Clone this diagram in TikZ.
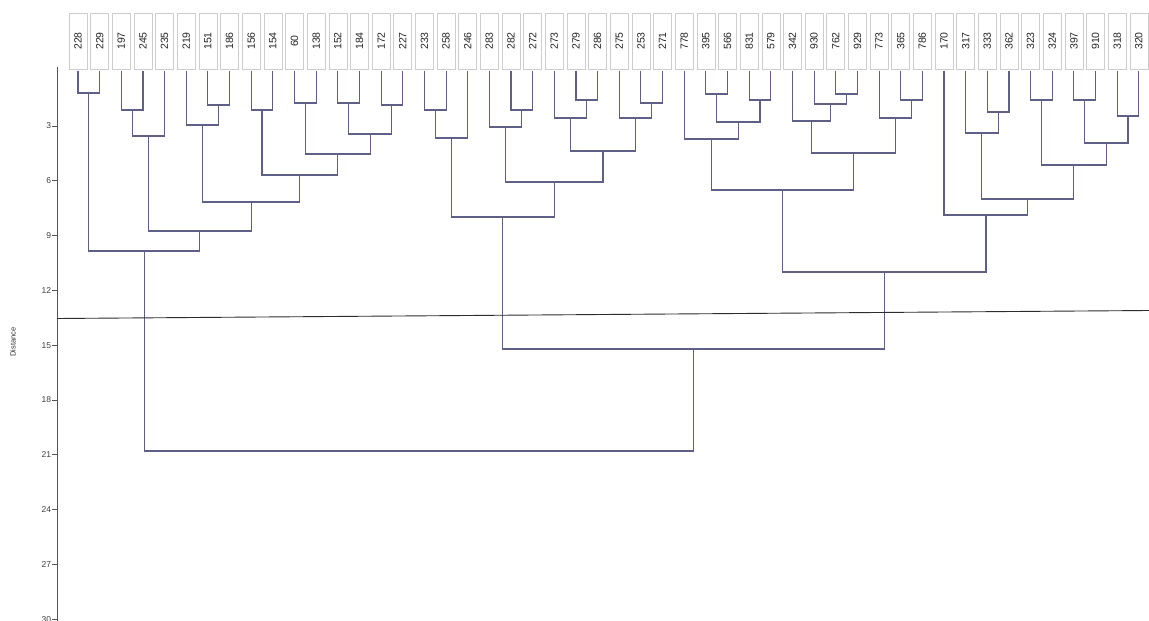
\documentclass[tikz,border=0pt]{standalone}
\usepackage{fontspec}
\setmainfont{Liberation Sans}
\usetikzlibrary{calc}
\definecolor{dendro}{RGB}{96,96,134}
\definecolor{axisc}{RGB}{85,85,85}
\definecolor{boxc}{RGB}{205,205,205}
\definecolor{cutc}{RGB}{45,45,45}
\tikzset{
  leafbox/.style={draw=boxc, line width=0.6pt, minimum width=18pt, minimum height=56pt,
    inner sep=0pt, outer ysep=1.5pt, font=\fontsize{10.5}{11}\selectfont, text=black!85},
  dend/.style={draw=dendro, line width=1.1pt},
  axisline/.style={draw=axisc, line width=1pt},
  ticklab/.style={anchor=east, inner sep=0pt, font=\fontsize{8.5}{9}\selectfont, text=black!75},
  cutline/.style={draw=cutc, line width=0.9pt},
}
\newcommand\mrg[4]{%
  \coordinate (#1tmp) at ($(#2)!0.5!(#3)$);
  \coordinate (#1) at (#1tmp |- 0,#4);
  \draw[dend] (#2) |- (#1) -| (#3);
}
\begin{document}
\begin{tikzpicture}[x=1pt,y=-1pt]
\useasboundingbox[fill=white] (0,0) rectangle (1149,621);
% leaves
\foreach \lab [count=\i from 0] in {228,229,197,245,235,219,151,186,156,154,60,138,152,184,172,227,233,258,246,283,282,272,273,279,286,275,253,271,778,395,566,831,579,342,930,762,929,773,365,786,170,317,333,362,323,324,397,910,318,320}
  \node[leafbox] (L\i) at ({78+21.65*\i},41) {\rotatebox{90}{\lab}};
% group A
\mrg{m1}{L0}{L1}{93}
\mrg{m2}{L2}{L3}{110}
\mrg{m3}{m2}{L4}{136}
\mrg{m4}{L6}{L7}{105}
\mrg{m5}{L5}{m4}{125}
\mrg{m6}{L8}{L9}{110}
\mrg{m7}{L10}{L11}{103}
\mrg{m8}{L12}{L13}{103}
\mrg{m9}{L14}{L15}{105}
\mrg{m10}{m8}{m9}{134}
\mrg{m11}{m7}{m10}{154}
\mrg{m12}{m6}{m11}{175}
\mrg{m13}{m5}{m12}{202}
\mrg{m14}{m3}{m13}{231}
\mrg{m15}{m1}{m14}{251}
% group B
\mrg{n1}{L16}{L17}{110}
\mrg{n2}{n1}{L18}{138}
\mrg{n3}{L20}{L21}{110}
\mrg{n4}{L19}{n3}{127}
\mrg{n5}{L23}{L24}{100}
\mrg{n6}{L22}{n5}{118}
\mrg{n7}{L26}{L27}{103}
\mrg{n8}{L25}{n7}{118}
\mrg{n9}{n6}{n8}{151}
\mrg{n10}{n4}{n9}{182}
\mrg{n11}{n2}{n10}{217}
% group C
\mrg{c1}{L29}{L30}{94}
\mrg{c2}{L31}{L32}{100}
\mrg{c3}{c1}{c2}{122}
\mrg{c4}{L28}{c3}{139}
\mrg{c5}{L35}{L36}{94}
\mrg{c6}{L34}{c5}{104}
\mrg{c7}{L33}{c6}{121}
\mrg{c8}{L38}{L39}{100}
\mrg{c9}{L37}{c8}{118}
\mrg{c10}{c7}{c9}{153}
\mrg{c11}{c4}{c10}{190}
% group D
\mrg{d1}{L42}{L43}{112}
\mrg{d2}{L41}{d1}{133}
\mrg{d3}{L44}{L45}{100}
\mrg{d4}{L46}{L47}{100}
\mrg{d5}{L48}{L49}{116}
\mrg{d6}{d4}{d5}{143}
\mrg{d7}{d3}{d6}{165}
\mrg{d8}{d2}{d7}{199}
\mrg{d9}{L40}{d8}{215}
% upper joins
\mrg{cd}{c11}{d9}{272}
\mrg{bcd}{n11}{cd}{349}
\mrg{root}{m15}{bcd}{451}
% axis
\coordinate (axtop) at (57,67);
\coordinate (axbot) at (57,621);
\draw[axisline] (axtop) -- (axbot);
\foreach \v in {3,6,...,30} {
  \coordinate (t\v) at (57,{71.2+18.27*\v});
  \draw[axisline] (t\v) -- ++(-5,0) node[ticklab, xshift=-0.3pt] {\v};
}
\node[rotate=90, font=\fontsize{7.5}{8}\selectfont, text=black!80] (dist) at (13,342) {Distance};
% cut line
\coordinate (cutL) at (57,318.5);
\coordinate (cutR) at (1149,310.5);
\draw[cutline] (cutL) -- (cutR);
\end{tikzpicture}
\end{document}
